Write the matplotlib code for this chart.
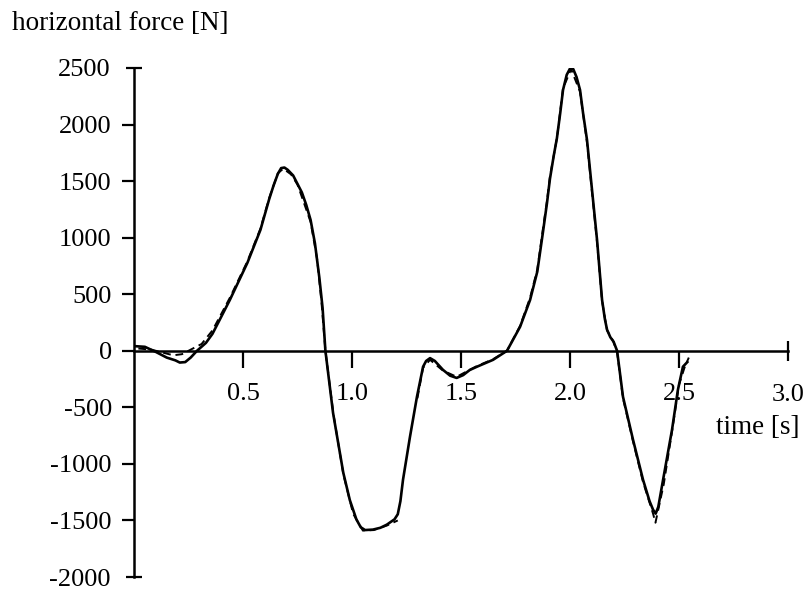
import matplotlib.pyplot as plt

# measured horizontal force (solid) and simulated force (dashed)
t_meas = [0.01, 0.05, 0.10, 0.15, 0.19, 0.21, 0.235, 0.26, 0.289, 0.33, 0.36,
          0.40, 0.44, 0.52, 0.58, 0.62, 0.64, 0.66, 0.675, 0.69, 0.705, 0.73,
          0.77, 0.79, 0.81, 0.83, 0.85, 0.865, 0.878, 0.913, 0.96, 0.99, 1.02,
          1.04, 1.06, 1.096, 1.13, 1.16, 1.195, 1.21, 1.222, 1.234, 1.266,
          1.298, 1.326, 1.34, 1.358, 1.38, 1.417, 1.45, 1.48, 1.51, 1.54,
          1.573, 1.647, 1.711, 1.771, 1.817, 1.85, 1.876, 1.894, 1.908, 1.925,
          1.94, 1.955, 1.968, 1.985, 2.0, 2.015, 2.03, 2.046, 2.06, 2.078,
          2.101, 2.124, 2.147, 2.16, 2.17, 2.185, 2.2, 2.216, 2.243, 2.289,
          2.335, 2.365, 2.381, 2.393, 2.405, 2.427, 2.468, 2.495, 2.518, 2.538]
f_meas = [40, 35, -10, -60, -85, -104, -100, -60, 0, 70, 150,
          300, 451, 777, 1069, 1340, 1460, 1565, 1615, 1620, 1600, 1550,
          1400, 1290, 1157, 950, 650, 380, 0, -548, -1078, -1320, -1490,
          -1560, -1585, -1581, -1565, -1537, -1490, -1445, -1330, -1140, -760,
          -406, -141, -90, -65, -90, -168, -220, -240, -215, -170,
          -141, -80, 0, 212, 450, 700, 1050, 1300, 1520, 1720,
          1880, 2100, 2306, 2440, 2495, 2490, 2420, 2306, 2100, 1864,
          1422, 981, 451, 280, 186, 120, 80, 0, -406, -786,
          -1140, -1330, -1405, -1440, -1380, -1140, -698, -345, -141, -100]

t_sim = [0.02, 0.08, 0.14, 0.18, 0.22, 0.27, 0.31, 0.36, 0.44, 0.52, 0.58, 0.62,
         0.66, 0.685, 0.72, 0.75, 0.81, 0.84, 0.86, 0.878, 0.915, 0.96, 1.005,
         1.05, 1.10, 1.16, 1.21]
f_sim = [20, 10, -20, -40, -30, 20, 60, 180, 470, 790, 1080, 1350,
         1570, 1610, 1560, 1470, 1140, 810, 430, 0, -560, -1090, -1440,
         -1590, -1585, -1545, -1500]

t_sim2 = [1.30, 1.326, 1.358, 1.417, 1.48, 1.573, 1.647, 1.711, 1.771, 1.817,
          1.85, 1.876, 1.894, 1.908, 1.94, 1.968, 2.005, 2.046, 2.078, 2.101,
          2.124, 2.147, 2.17, 2.197, 2.216, 2.243, 2.289, 2.335, 2.381, 2.392,
          2.43, 2.47, 2.50, 2.525, 2.545]
f_sim2 = [-420, -150, -80, -175, -230, -135, -75, 0, 220, 470,
          720, 1080, 1320, 1540, 1880, 2320, 2490, 2290, 1840, 1400,
          960, 440, 180, 90, -10, -420, -800, -1160, -1440, -1520,
          -1180, -690, -300, -150, -60]

plt.rcParams['font.family'] = ['Liberation Serif', 'DejaVu Serif']
plt.rcParams['font.size'] = 19

fig = plt.figure(figsize=(8.12, 5.9), dpi=100)
ax = fig.add_axes([134 / 812, 1 - 577 / 590, (788 - 134) / 812, (577 - 68) / 590])

ax.plot(t_meas, f_meas, color='black', lw=1.9, solid_joinstyle='round')
ax.plot(t_sim, f_sim, color='black', lw=1.4, linestyle=(0, (4, 2.5)))
ax.plot(t_sim2, f_sim2, color='black', lw=1.4, linestyle=(0, (4, 2.5)))

ax.set_xlim(0, 3.0)
ax.set_ylim(-2000, 2500)

# axes through the origin
for side in ['top', 'right']:
    ax.spines[side].set_visible(False)
ax.spines['bottom'].set_position(('data', 0))
ax.spines['left'].set_linewidth(1.8)
ax.spines['bottom'].set_linewidth(1.8)

ax.set_xticks([0.5, 1.0, 1.5, 2.0, 2.5])
ax.set_xticklabels(['0.5', '1.0', '1.5', '2.0', '2.5'])
ax.set_yticks([-1500, -1000, -500, 0, 500, 1000, 1500, 2000])
ax.set_yticklabels(['-1500', '-1000', '-500', '0', '500', '1000', '1500', '2000'])
ax.tick_params(axis='x', direction='out', length=12, width=1.6, pad=11)
ax.tick_params(axis='y', direction='out', length=9, width=1.6, pad=7)

# end caps at the axis limits
ax.xaxis.remove_overlapping_locs = False
ax.yaxis.remove_overlapping_locs = False
ax.set_xticks([3.0], minor=True)
ax.set_xticklabels(['3.0'], minor=True)
ax.set_yticks([-2000, 2500], minor=True)
ax.set_yticklabels(['-2000', '2500'], minor=True)
ax.tick_params(axis='x', which='minor', direction='inout', length=14, width=1.6,
               pad=17, labelsize=19)
ax.tick_params(axis='y', which='minor', direction='inout', length=12, width=1.6,
               pad=11, labelsize=19)

fig.text(12 / 812, 1 - 23 / 590, 'horizontal force [N]', ha='left', va='center',
         fontsize=19.5)
fig.text(800 / 812, 1 - 428 / 590, 'time [s]', ha='right', va='center',
         fontsize=19.5)

fig.savefig('out.png', dpi=100)
